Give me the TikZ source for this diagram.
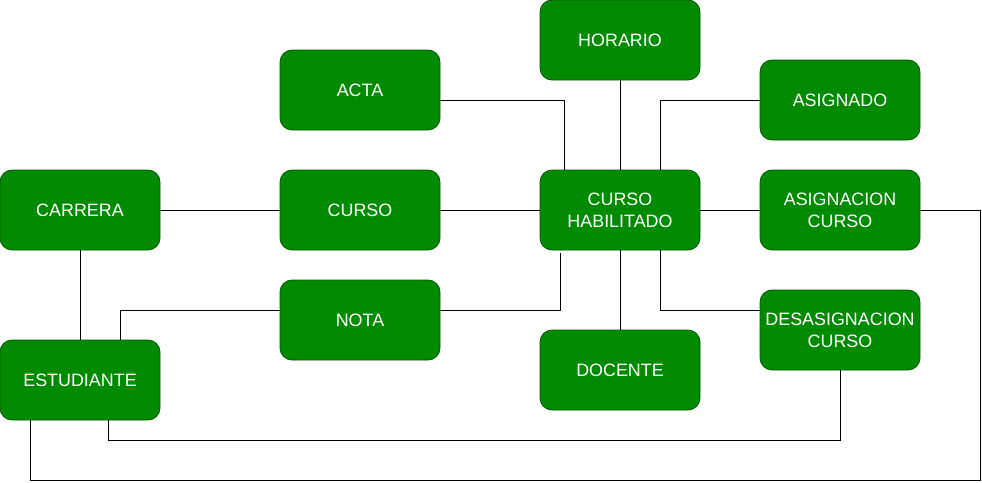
\documentclass[tikz,border=0pt]{standalone}
\usepackage{fontspec}
\setmainfont{Liberation Sans}
\definecolor{boxfill}{HTML}{008A00}
\definecolor{boxline}{HTML}{005700}
\begin{document}
\begin{tikzpicture}[x=1pt,y=-1pt,
  ent/.style={draw=boxline,fill=boxfill,rounded corners=12pt,minimum width=160pt,minimum height=80pt,
    text=white,font=\fontsize{17.9}{22}\selectfont,align=center,inner sep=0pt,line width=0.8pt},
  conn/.style={draw=black,line width=0.8pt}]
\useasboundingbox (0,0) rectangle (982,482);
\node[ent] (hor) at (620,40) {HORARIO};
\node[ent] (acta) at (360,90) {ACTA};
\node[ent] (asig) at (840,100) {ASIGNADO};
\node[ent] (car) at (80,210) {CARRERA};
\node[ent] (cur) at (360,210) {CURSO};
\node[ent] (ch) at (620,210) {CURSO\\HABILITADO};
\node[ent] (ac) at (840,210) {ASIGNACION\\CURSO};
\node[ent] (nota) at (360,320) {NOTA};
\node[ent] (des) at (840,330) {DESASIGNACION\\CURSO};
\node[ent] (est) at (80,380) {ESTUDIANTE};
\node[ent] (doc) at (620,370) {DOCENTE};
\coordinate (chb) at (560,253);
\begin{scope}[conn]
\draw (acta.east |- 0,100) -| (ch.north -| 564,0);
\draw (hor) -- (ch);
\draw (asig.west |- 0,100) -| (ch.north -| 660,0);
\draw (car) -- (cur);
\draw (cur) -- (ch);
\draw (ch) -- (ac);
\draw (car) -- (est);
\draw (nota.west |- 0,310) -| (est.north -| 120,0);
\draw (nota.east |- 0,310) -| (chb);
\draw (ch) -- (doc);
\draw (ch.south -| 660,0) |- (des.west |- 0,310);
\draw (des.south) -- (840,440) -| (est.south -| 108,0);
\draw (ac.east) -- (980.5,210) -- (980.5,480.5) -| (est.south -| 30,0);
\end{scope}
\end{tikzpicture}
\end{document}
